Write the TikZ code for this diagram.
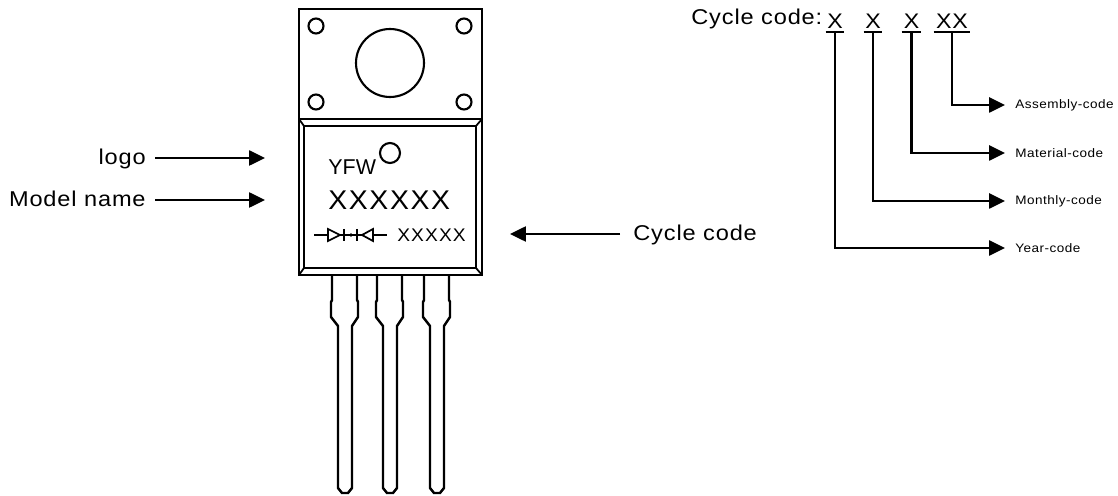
\documentclass[tikz,border=0pt]{standalone}
\usepackage{fontspec}
\setmainfont{Liberation Sans}
\newfontfamily\labelfont[LetterSpace=4,FakeStretch=1.1]{Liberation Sans}
\newfontfamily\markfont[LetterSpace=6,FakeStretch=1.05]{Liberation Sans}
\usetikzlibrary{arrows.meta}
\tikzset{
  pkg/.style={black,line width=1.4pt},
  thin line/.style={black,line width=1pt},
  hole/.style={black,line width=1.2pt},
  callout/.style={black,line width=1.25pt,-{Triangle[length=9pt,width=8.5pt]}},
  bigtext/.style={inner sep=0pt,font=\labelfont\fontsize{12.2}{14}\selectfont},
  smalltext/.style={inner sep=0pt,anchor=west,font=\labelfont\fontsize{7}{8}\selectfont},
  codex/.style={inner sep=0pt,anchor=south,text height=10pt,text depth=2pt,font=\labelfont\fontsize{12}{14}\selectfont},
}
\begin{document}
\begin{tikzpicture}[x=0.02cm,y=-0.02cm]
    \useasboundingbox (0,0) rectangle (1118,496);
    % tab and body
    \draw[pkg] (299,9) rectangle (482,119);
    \draw[pkg] (299,119) rectangle (482,275);
    \draw[pkg] (304,126) rectangle (476,268);
    \draw[thin line] (299,119) -- (304,126) (482,119) -- (476,126);
    \draw[thin line] (299,275) -- (304,268) (482,275) -- (476,268);
    \draw[hole] (390,63) circle (34);
    \foreach \x in {316,464}
    \foreach \y in {26,102} {
        \draw[hole] (\x,\y) circle (7.5);
      }
    % leads
    \foreach \x in {0,45,92} {
        \draw[pkg,xshift=\x*0.02cm] (332,275) -- (332,300) -- (331,302) -- (331,317) -- (338,326)
          -- (338,488) -- (342,493) -- (348,493) -- (352,488) -- (352,326)
          -- (358,317) -- (358,302) -- (357,300) -- (357,275);
      }
    % printed marks
    \node[inner sep=0pt,anchor=base west,font=\fontsize{12.2}{14}\selectfont] (brand) at (328,175) {YFW};
    \draw[hole] (390,153) circle (10);
    \node[inner sep=0pt,anchor=base west,font=\markfont\fontsize{15.4}{18}\selectfont] (model) at (328,210) {XXXXXX};
    \node[inner sep=0pt,anchor=base west,font=\markfont\fontsize{10.4}{12}\selectfont] (cycle) at (397,242) {XXXXX};
    \draw[thin line] (314,235) -- (328,235) (373,235) -- (387,235) (340,235) -- (362,235);
    \draw[thin line] (328,229) -- (328,241) -- (340,235) -- cycle;
    \draw[thin line] (373,229) -- (373,241) -- (362,235) -- cycle;
    \draw[thin line] (344,229) -- (344,241) (357,229) -- (357,241);
    \fill (351,235) circle (1.8);
    % left and middle labels
    \node[bigtext,anchor=base east] (logo) at (146,165) {logo};
    \node[bigtext,anchor=base east] (modelname) at (146,207) {Model name};
    \node[bigtext,anchor=base west] (cyclecode) at (633,241) {Cycle code};
    \coordinate (logoend) at (265,158);
    \coordinate (modelend) at (265,200);
    \coordinate (cycleend) at (510,234);
    \draw[callout,shorten <=9*0.02cm] (logo.east |- logoend) -- (logoend);
    \draw[callout,shorten <=9*0.02cm] (modelname.east |- modelend) -- (modelend);
    \draw[callout,shorten <=13*0.02cm] (cyclecode.west |- cycleend) -- (cycleend);
    % cycle code breakdown
    \node[bigtext,anchor=base west] (title) at (691,25) {Cycle code:};
    \node[codex,minimum width=18*0.02cm] (yearx) at (835,32) {X};
    \node[codex,minimum width=18*0.02cm] (monthx) at (873,32) {X};
    \node[codex,minimum width=19*0.02cm] (matx) at (911.5,32) {X};
    \node[codex,minimum width=36*0.02cm] (asmx) at (952,32) {XX};
    \foreach \n in {yearx,monthx,matx,asmx} {
        \draw[thin line] (\n.south west) -- (\n.south east);
      }
    \node[smalltext] (asm) at (1015,105) {Assembly-code};
    \node[smalltext] (mat) at (1015,153) {Material-code};
    \node[smalltext] (month) at (1015,201) {Monthly-code};
    \node[smalltext] (year) at (1015,248) {Year-code};
    \draw[callout,shorten >=10*0.02cm] (asmx.south) |- (asm.west);
    \draw[callout,shorten >=10*0.02cm] (matx.south) |- (mat.west);
    \draw[callout,shorten >=10*0.02cm] (monthx.south) |- (month.west);
    \draw[callout,shorten >=10*0.02cm] (yearx.south) |- (year.west);
  \end{tikzpicture}
\end{document}
